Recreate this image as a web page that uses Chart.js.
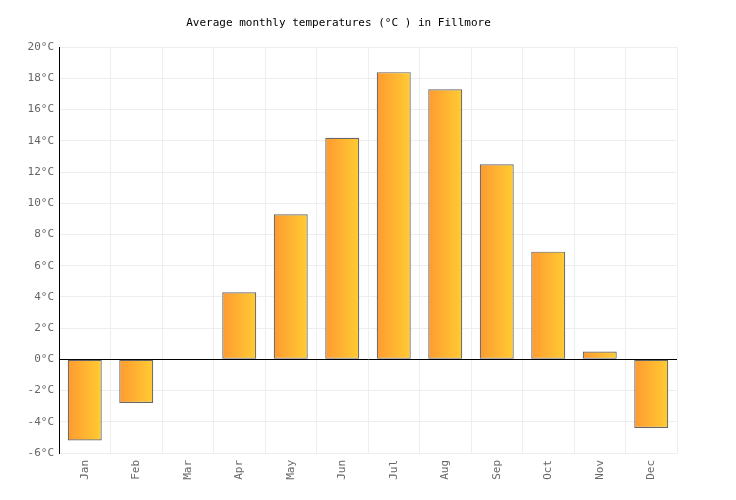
<!DOCTYPE html>
<html lang="en">
<head>
    <meta charset="UTF-8">
    <title>Fillmore temperatures</title>
    <script src="https://cdn.jsdelivr.net/npm/chart.js"></script>
    <style>
        body {
            margin: 0;
            padding: 0;
            background-color: white;
        }
        canvas {
            display: block;
        }
    </style>
</head>
<body>
    <canvas id="myChart" width="736" height="500"></canvas>

    <script>
        const months = ['Jan', 'Feb', 'Mar', 'Apr', 'May', 'Jun', 'Jul', 'Aug', 'Sep', 'Oct', 'Nov', 'Dec'];
        const temps = [-5.2, -2.8, 0, 4.3, 9.3, 14.2, 18.4, 17.3, 12.5, 6.9, 0.5, -4.4];
        const yMin = -6;
        const yMax = 20;
        const yStep = 2;
        const barPct = 0.66;

        // horizontal orange -> yellow gradient for each bar
        function barGradient(c) {
            const chart = c.chart;
            const xs = chart.scales.x;
            if (!xs || !chart.chartArea) return '#ffb030';
            const cx = xs.getPixelForValue(c.dataIndex);
            const w = xs.width / months.length * barPct;
            const g = chart.ctx.createLinearGradient(cx - w / 2, 0, cx + w / 2, 0);
            g.addColorStop(0, '#ff9a30');
            g.addColorStop(1, '#ffcc33');
            return g;
        }

        const ctx = document.getElementById('myChart').getContext('2d');
        new Chart(ctx, {
            type: 'bar',
            data: {
                labels: months,
                datasets: [{
                    label: 'Temperature',
                    data: temps,
                    backgroundColor: barGradient,
                    borderColor: '#666666',
                    borderWidth: 1.2,
                    borderSkipped: false,
                    barPercentage: barPct,
                    categoryPercentage: 1
                }]
            },
            options: {
                responsive: false,
                animation: false,
                layout: {
                    padding: { left: 0, right: 59, top: 0, bottom: 0 }
                },
                plugins: {
                    legend: { display: false },
                    tooltip: { enabled: false },
                    title: {
                        display: true,
                        text: 'Average monthly temperatures (°C ) in Fillmore',
                        color: '#000',
                        font: { family: 'DejaVu Sans Mono', size: 11, weight: 'normal' },
                        padding: { top: 17, bottom: 17 }
                    }
                },
                scales: {
                    x: {
                        grid: {
                            color: '#eeeeee',
                            drawTicks: false,
                            offset: true
                        },
                        border: { color: '#eeeeee' },
                        ticks: {
                            color: '#666',
                            font: { family: 'DejaVu Sans Mono', size: 11 },
                            maxRotation: 90,
                            minRotation: 90,
                            padding: 7
                        },
                        afterFit: function (scale) { scale.height = 47; }
                    },
                    y: {
                        min: yMin,
                        max: yMax,
                        grid: {
                            color: function (c) { return c.tick && c.tick.value === 0 ? '#000' : '#eeeeee'; },
                            drawTicks: false
                        },
                        border: { color: '#000' },
                        ticks: {
                            stepSize: yStep,
                            color: '#666',
                            font: { family: 'DejaVu Sans Mono', size: 11 },
                            padding: 5,
                            callback: function (v) { return v + '°C'; }
                        },
                        afterFit: function (scale) { scale.width = 59; }
                    }
                }
            }
        });
    </script>
</body>
</html>
